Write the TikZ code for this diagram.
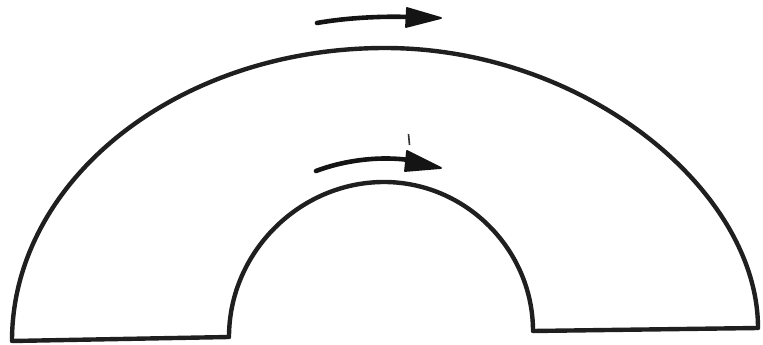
\documentclass[tikz,border=0pt]{standalone}
\begin{document}
\begin{tikzpicture}[x=1pt,y=-1pt,
  archline/.style={line width=4.4pt,line join=round,line cap=round,draw=black!88},
  shaft/.style={line width=4.6pt,line cap=round,draw=black!92},
  head/.style={fill=black!92,draw=black!92,line width=1.8pt,line join=round}]
\useasboundingbox (0,0) rectangle (763,345);
% arch outline
\coordinate (bl) at (12,341);
\coordinate (otop) at (385,48);
\coordinate (br) at (758,328);
\coordinate (ir) at (533,331);
\coordinate (itop) at (384,182);
\coordinate (il) at (229,337);
\draw[archline] (bl) .. controls (12,180) and (178,48) .. (otop)
  .. controls (584,48) and (758,190) .. (br)
  -- (ir)
  .. controls (533,250) and (466,182) .. (itop)
  .. controls (300,182) and (229,252) .. (il)
  -- cycle;
% top arrow
\coordinate (t1) at (317,23);
\coordinate (t2) at (409,17);
\draw[shaft] (t1) .. controls (345,18) and (380,16) .. (t2);
\fill[head] (407,8) -- (441,18) -- (406,27) -- cycle;
% inner arrow
\coordinate (a1) at (316,171);
\coordinate (a2) at (409,160);
\draw[shaft] (a1) .. controls (345,160) and (380,156) .. (a2);
\fill[head] (407,151) -- (441,168) -- (405,171) -- cycle;
% small speck
\draw[line width=1.6pt,black!80] (408.5,134) -- (409.5,145);
\end{tikzpicture}
\end{document}
